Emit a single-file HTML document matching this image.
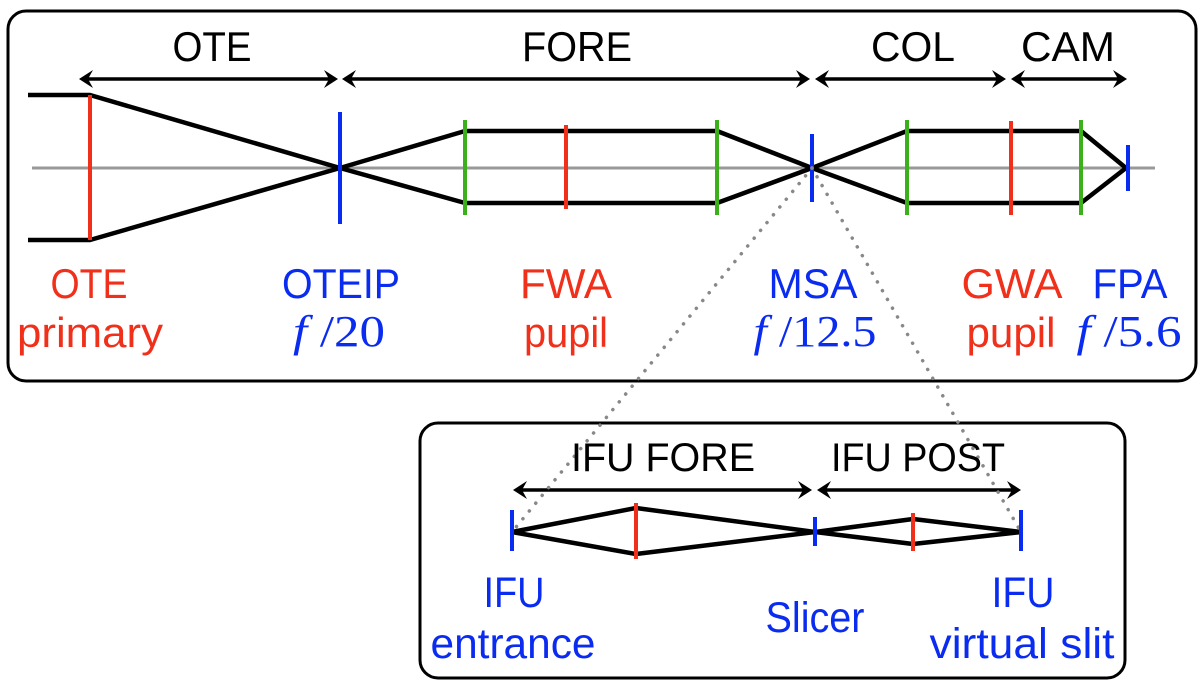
<!DOCTYPE html>
<html><head><meta charset="utf-8"><style>html,body{margin:0;padding:0;background:#fff}svg{display:block}</style></head>
<body>
<svg width="1200" height="685" viewBox="0 0 1200 685" xmlns="http://www.w3.org/2000/svg" font-family="'Liberation Sans', sans-serif">
<rect x="8" y="11" width="1188" height="370" rx="18" fill="none" stroke="#000" stroke-width="3"/>
<rect x="420" y="423" width="705" height="255" rx="18" fill="none" stroke="#000" stroke-width="3"/>
<line x1="32" y1="168" x2="1155" y2="168" stroke="#999" stroke-width="3"/>
<g stroke="#000" stroke-width="4.5" fill="none" stroke-linejoin="round">
<polyline points="28,95 90,95 340,168 465,131 717,131 812,168 907,131 1081,131 1126,168"/>
<polyline points="28,240 90,240 340,168 465,203 717,203 812,168 907,203 1081,203 1126,168"/>
</g>
<g stroke-width="4">
<line x1="90" y1="95" x2="90" y2="240" stroke="#f0301a"/>
<line x1="340" y1="112" x2="340" y2="224" stroke="#0a2cf0"/>
<line x1="465" y1="120" x2="465" y2="215" stroke="#3cb01a"/>
<line x1="566" y1="125" x2="566" y2="209" stroke="#f0301a"/>
<line x1="717" y1="120" x2="717" y2="215" stroke="#3cb01a"/>
<line x1="812" y1="134" x2="812" y2="202" stroke="#0a2cf0"/>
<line x1="907" y1="120" x2="907" y2="215" stroke="#3cb01a"/>
<line x1="1011" y1="121" x2="1011" y2="215" stroke="#f0301a"/>
<line x1="1081" y1="120" x2="1081" y2="215" stroke="#3cb01a"/>
<line x1="1128" y1="145" x2="1128" y2="191" stroke="#0a2cf0"/>
</g>
<!-- top arrows -->
<g stroke="#000" stroke-width="3.5">
<line x1="84" y1="79" x2="333" y2="79"/>
<line x1="347" y1="79" x2="805" y2="79"/>
<line x1="820" y1="79" x2="1001" y2="79"/>
<line x1="1016" y1="79" x2="1122" y2="79"/>
<line x1="518" y1="490" x2="807" y2="490"/>
<line x1="822" y1="490" x2="1016" y2="490"/>
</g>
<g fill="#000">
<path d="M79,79 L93,70 L88,79 L93,88 Z"/>
<path d="M338,79 L324,70 L329,79 L324,88 Z"/>
<path d="M342,79 L356,70 L351,79 L356,88 Z"/>
<path d="M810,79 L796,70 L801,79 L796,88 Z"/>
<path d="M815,79 L829,70 L824,79 L829,88 Z"/>
<path d="M1006,79 L992,70 L997,79 L992,88 Z"/>
<path d="M1011,79 L1025,70 L1020,79 L1025,88 Z"/>
<path d="M1127,79 L1113,70 L1118,79 L1113,88 Z"/>
<path d="M513,490 L527,481 L522,490 L527,499 Z"/>
<path d="M812,490 L798,481 L803,490 L798,499 Z"/>
<path d="M817,490 L831,481 L826,490 L831,499 Z"/>
<path d="M1021,490 L1007,481 L1012,490 L1007,499 Z"/>
</g>
<g font-size="42" fill="#000" text-anchor="middle">
<text x="212" y="61" textLength="79" lengthAdjust="spacingAndGlyphs">OTE</text>
<text x="577" y="61" textLength="110" lengthAdjust="spacingAndGlyphs">FORE</text>
<text x="913" y="61" textLength="84" lengthAdjust="spacingAndGlyphs">COL</text>
<text x="1068" y="61" textLength="94" lengthAdjust="spacingAndGlyphs">CAM</text>
</g>
<g font-size="42" text-anchor="middle">
<text x="89" y="298" fill="#f0301a" textLength="77" lengthAdjust="spacingAndGlyphs">OTE</text>
<text x="90" y="347" fill="#f0301a" textLength="146" lengthAdjust="spacingAndGlyphs">primary</text>
<text x="341" y="298" fill="#0a2cf0" textLength="118" lengthAdjust="spacingAndGlyphs">OTEIP</text>
<text x="566" y="298" fill="#f0301a" textLength="92" lengthAdjust="spacingAndGlyphs">FWA</text>
<text x="566" y="347" fill="#f0301a" textLength="84" lengthAdjust="spacingAndGlyphs">pupil</text>
<text x="813" y="298" fill="#0a2cf0" textLength="89" lengthAdjust="spacingAndGlyphs">MSA</text>
<text x="1012" y="298" fill="#f0301a" textLength="101" lengthAdjust="spacingAndGlyphs">GWA</text>
<text x="1011" y="347" fill="#f0301a" textLength="89" lengthAdjust="spacingAndGlyphs">pupil</text>
<text x="1130" y="298" fill="#0a2cf0" textLength="75" lengthAdjust="spacingAndGlyphs">FPA</text>
</g>
<g font-family="'Liberation Serif', serif" font-size="44" fill="#0a2cf0" text-anchor="middle">
<text x="339" y="346" textLength="92" lengthAdjust="spacingAndGlyphs"><tspan font-style="italic">f</tspan> /20</text>
<text x="815" y="346" textLength="123" lengthAdjust="spacingAndGlyphs"><tspan font-style="italic">f</tspan> /12.5</text>
<text x="1129" y="346" textLength="105" lengthAdjust="spacingAndGlyphs"><tspan font-style="italic">f</tspan> /5.6</text>
</g>
<g stroke="#888" stroke-width="3.5" stroke-linecap="round" stroke-dasharray="0.1 10">
<line x1="812" y1="168" x2="512" y2="532"/>
<line x1="812" y1="168" x2="1021" y2="532"/>
</g>
<g stroke="#000" stroke-width="4.5" fill="none" stroke-linejoin="round">
<polyline points="512,532 636,508 815,532 913,519 1021,532"/>
<polyline points="512,532 636,554 815,532 913,544 1021,532"/>
</g>
<g stroke-width="4">
<line x1="512" y1="510" x2="512" y2="551" stroke="#0a2cf0"/>
<line x1="636" y1="503" x2="636" y2="559" stroke="#f0301a"/>
<line x1="815" y1="517" x2="815" y2="546" stroke="#0a2cf0"/>
<line x1="913" y1="513" x2="913" y2="551" stroke="#f0301a"/>
<line x1="1021" y1="510" x2="1021" y2="551" stroke="#0a2cf0"/>
</g>
<g font-size="40" fill="#000" text-anchor="middle">
<text x="663" y="471" textLength="184" lengthAdjust="spacingAndGlyphs">IFU FORE</text>
<text x="918" y="471" textLength="174" lengthAdjust="spacingAndGlyphs">IFU POST</text>
</g>
<g font-size="43" fill="#0a2cf0" text-anchor="middle">
<text x="514" y="607" textLength="61" lengthAdjust="spacingAndGlyphs">IFU</text>
<text x="513" y="658" textLength="165" lengthAdjust="spacingAndGlyphs">entrance</text>
<text x="815" y="632" textLength="99" lengthAdjust="spacingAndGlyphs">Slicer</text>
<text x="1023" y="607" textLength="63" lengthAdjust="spacingAndGlyphs">IFU</text>
<text x="1022" y="658" textLength="185" lengthAdjust="spacingAndGlyphs">virtual slit</text>
</g>
</svg>
</body></html>
